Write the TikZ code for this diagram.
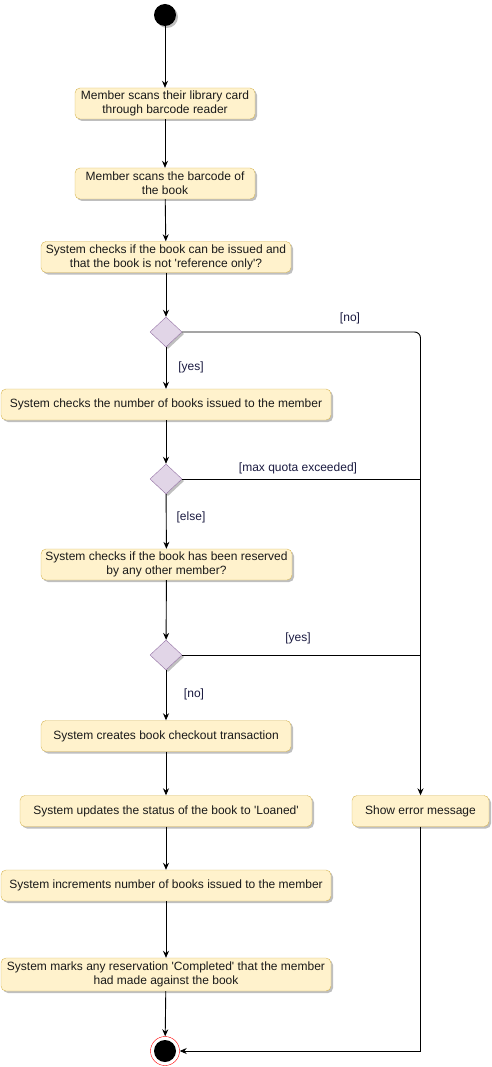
\documentclass[tikz,border=0pt]{standalone}
\usepackage{fontspec}
\setmainfont{Liberation Sans}
\usetikzlibrary{arrows.meta,shadows,shapes.geometric}
\definecolor{actfill}{HTML}{FFF2CC}
\definecolor{actline}{HTML}{D6B656}
\definecolor{decfill}{HTML}{E1D5E7}
\definecolor{decline}{HTML}{9673A6}
\definecolor{guardcol}{HTML}{1A1A40}
\tikzset{
	shade/.style={drop shadow={shadow xshift=2pt, shadow yshift=-2pt, opacity=0.25, fill=black}},
	act/.style={shade, draw=actline, fill=actfill, rounded corners=5pt, align=center, minimum height=31pt, inner sep=1pt, font=\fontsize{12}{14}\selectfont, text=black!90},
	dec/.style={shade, diamond, draw=decline, fill=decfill, minimum width=32pt, minimum height=30pt, inner sep=0pt},
	flow/.style={-{Stealth[length=7pt,width=6pt]}, line width=0.9pt},
	guard/.style={text=guardcol, font=\fontsize{12}{14}\selectfont},
}

\begin{document}
\begin{tikzpicture}[x=1pt,y=-1pt]
		\useasboundingbox (0,0) rectangle (491,1067);
		% start / end
		\node[shade, circle, fill=black, minimum size=22pt, inner sep=0pt] (start) at (165,15) {};
		\node[circle, draw=red, fill=white, minimum size=29pt, inner sep=0pt] (end) at (165,1051) {};
		\node[circle, fill=black, minimum size=22pt, inner sep=0pt] (endin) at (end) {};

		% activities
		\node[act, minimum width=180pt] (scan1) at (165,103.5) {Member scans their library card\\through barcode reader};
		\node[act, minimum width=180pt] (scan2) at (165,183.5) {Member scans the barcode of\\the book};
		\node[act, minimum width=250pt] (check1) at (166,257) {System checks if the book can be issued and\\that the book is not \textquotesingle reference only\textquotesingle?};
		\node[act, minimum width=330pt] (count) at (166,404.5) {System checks the number of books issued to the member};
		\node[act, minimum width=251pt] (reserved) at (166.5,564.5) {System checks if the book has been reserved\\by any other member?};
		\node[act, minimum width=250pt] (create) at (166,736) {System creates book checkout transaction};
		\node[act, minimum width=292pt] (loaned) at (166,811) {System updates the status of the book to \textquotesingle Loaned\textquotesingle};
		\node[act, minimum width=137pt] (err) at (420.5,811) {Show error message};
		\node[act, minimum width=330pt] (incr) at (166,885.5) {System increments number of books issued to the member};
		\node[act, minimum width=330pt, minimum height=33pt] (mark) at (166,974.5) {System marks any reservation \textquotesingle Completed\textquotesingle{} that the member\\had made against the book};

		% decisions
		\node[dec] (d1) at (166,332) {};
		\node[dec] (d2) at (166,479) {};
		\node[dec] (d3) at (166,655) {};
		\coordinate (quota) at (d2 -| err);
		\coordinate (taken) at (d3 -| err);

		% guards
		\node[guard] (no1) at (350,318) {[no]};
		\node[guard] (yes1) at (191,367) {[yes]};
		\node[guard] (max) at (298,468) {[max quota exceeded]};
		\node[guard] (else) at (191,517) {[else]};
		\node[guard] (yes2) at (298,638) {[yes]};
		\node[guard] (no2) at (194,694) {[no]};

		% flows
		\draw[flow] (start) to (scan1);
		\draw[flow] (scan1) to (scan2);
		\draw[flow] (scan2) to (check1);
		\draw[flow] (check1) to (d1);
		\draw[flow] (d1) to (count);
		\draw[flow] (count) to (d2);
		\draw[flow] (d2) to (reserved);
		\draw[flow] (reserved) to (d3);
		\draw[flow] (d3) to (create);
		\draw[flow] (create) to (loaned);
		\draw[flow] (loaned) to (incr);
		\draw[flow] (incr) to (mark);
		\draw[flow] (mark) to (end);
		\draw[flow, rounded corners=6pt] (d1) -| (err);
		\draw[line width=0.9pt] (d2) to (quota);
		\draw[line width=0.9pt] (d3) to (taken);
		\draw[flow] (err) |- (end);
\end{tikzpicture}
\end{document}
